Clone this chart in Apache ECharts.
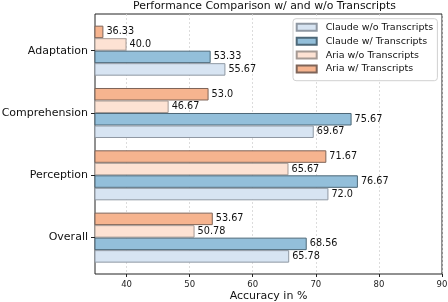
<!DOCTYPE html>
<html>
<head>
<meta charset="utf-8">
<script src="https://cdn.jsdelivr.net/npm/echarts@6/dist/echarts.min.js"></script>
<style>html,body{margin:0;padding:0;background:#fff}#c{width:448px;height:302px}</style>
</head>
<body>
<div id="c"></div>
<script>
const categories = ['Overall', 'Perception', 'Comprehension', 'Adaptation'];
const claudeWo = [65.78, 72.0, 69.67, 55.67];
const claudeW = [68.56, 76.67, 75.67, 53.33];
const ariaWo = [50.78, 65.67, 46.67, 40.0];
const ariaW = [53.67, 71.67, 53.0, 36.33];
const seriesNames = ['Claude w/o Transcripts', 'Claude w/ Transcripts', 'Aria w/o Transcripts', 'Aria w/ Transcripts'];
const xTicks = [40, 50, 60, 70, 80, 90];

const colors = ['#d7e4f2', '#93bfda', '#fde2d3', '#f6b48f'];
const edges = ['#8f98a3', '#4d6878', '#a59a94', '#7f6559'];
const font = 'DejaVu Sans';
const fmt = p => Number.isInteger(p.value) ? p.value.toFixed(1) : String(p.value);

const dataSets = [claudeWo, claudeW, ariaWo, ariaW];
// draw order: first series sits at the top of each group
const drawOrder = [3, 2, 1, 0];
const chart = echarts.init(document.getElementById('c'), null, {renderer: 'canvas'});
chart.setOption({
  animation: false,
  textStyle: {fontFamily: font},
  title: {
    text: 'Performance Comparison w/ and w/o Transcripts',
    left: 133, top: 1, padding: 0,
    textStyle: {fontFamily: font, fontSize: 10.9, fontWeight: 'normal', color: '#111'}
  },
  legend: {
    orient: 'vertical', left: 293, top: 18.7,
    padding: [3.6, 4.3, 6.7, 2.7], itemGap: 3.9,
    itemWidth: 20, itemHeight: 7, icon: 'rect',
    borderColor: '#d0d0d0', borderWidth: 1, borderRadius: 3,
    backgroundColor: 'rgba(255,255,255,0.85)',
    textStyle: {fontFamily: font, fontSize: 9.5, color: '#111', lineHeight: 10, padding: [0, 0, 0, 4]},
    data: seriesNames
  },
  grid: [
    {left: 95, right: 6, top: 14, bottom: 28, show: true, borderColor: '#222', borderWidth: 1,
      backgroundColor: 'transparent', outerBoundsMode: 'none', containLabel: false},
    {left: 95, right: 6, top: 19.5, bottom: 33.2, outerBoundsMode: 'none', containLabel: false}
  ],
  xAxis: [
    {
      type: 'value', gridIndex: 0, min: 35, max: 90,
      name: 'Accuracy in %', nameLocation: 'middle', nameGap: 17, nameMoveOverlap: false,
      nameTextStyle: {fontFamily: font, fontSize: 11, color: '#111'},
      axisLine: {show: false},
      axisTick: {show: true, length: 3, lineStyle: {color: '#222'}, customValues: xTicks},
      axisLabel: {fontFamily: font, fontSize: 8.5, color: '#222', margin: 6, customValues: xTicks},
      splitLine: {show: true, lineStyle: {color: '#d4d4d4', type: [2, 2], width: 0.8}}
    },
    {type: 'value', gridIndex: 1, min: 35, max: 90, show: false, splitLine: {show: false}}
  ],
  yAxis: [
    {type: 'value', gridIndex: 0, show: false, splitLine: {show: false}},
    {
      type: 'category', gridIndex: 1, data: categories,
      axisLine: {show: false},
      axisTick: {show: true, alignWithLabel: true, length: 4, lineStyle: {color: '#222'}},
      axisLabel: {fontFamily: font, fontSize: 11, color: '#111', margin: 7},
      splitLine: {show: false}
    }
  ],
  series: drawOrder.map(i => ({
    name: seriesNames[i], type: 'bar', xAxisIndex: 1, yAxisIndex: 1,
    data: dataSets[i], barWidth: 12.5, barGap: '0%',
    itemStyle: {color: colors[i], borderColor: edges[i], borderWidth: 1},
    label: {show: true, position: 'right', distance: 3, formatter: fmt,
      fontFamily: font, fontSize: 9.7, color: '#111'}
  }))
});
</script>
</body>
</html>
